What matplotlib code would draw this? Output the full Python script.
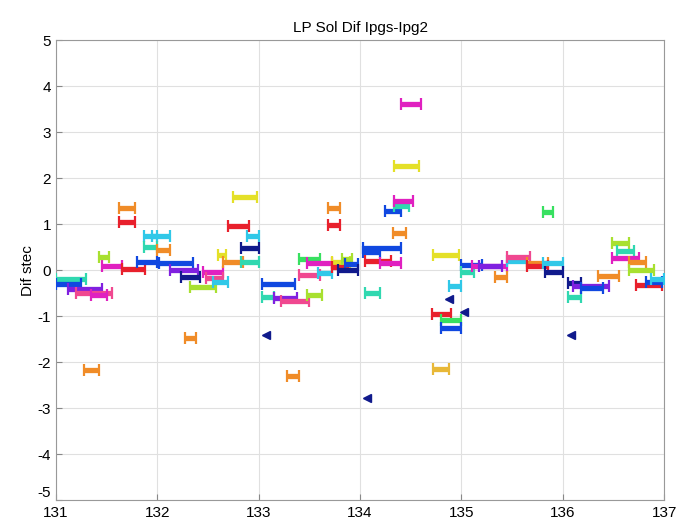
import numpy as np
import matplotlib.pyplot as plt

plt.rcParams['font.family'] = ['Liberation Sans', 'DejaVu Sans']
plt.rcParams['axes.unicode_minus'] = False

# satellite colours (index -> colour)
sat_colors = ['#e8202c', '#f08c28', '#e8b838', '#e4e028', '#a8e030', '#38e060',
              '#30d8b0', '#30c8e8', '#1048e0', '#101a8c', '#8020e0', '#e020c0', '#f04890']

# arc segments: start epoch, end epoch, level, satellite index
seg_x0 = [131.00, 131.00, 131.12, 131.20, 131.35, 131.45, 131.42, 131.65, 131.80, 131.87, 131.87,
          131.62, 131.62, 131.28,
          131.95, 132.00, 132.02, 132.13, 132.23, 132.32, 132.45, 132.48, 132.55, 132.60, 132.65,
          132.83, 132.83, 132.88, 132.70, 132.75, 132.27,
          133.03, 133.03, 133.15, 133.22, 133.48, 133.40, 133.48, 133.40, 133.58, 133.72, 133.72,
          133.82, 133.85, 133.78, 133.68, 133.68, 133.28,
          134.03, 134.03, 134.05, 134.20, 134.05, 134.32, 134.25, 134.33, 134.33, 134.33, 134.40,
          134.72, 134.71, 134.80, 134.80, 134.88, 134.72,
          135.00, 135.00, 135.10, 135.17, 135.33, 135.45, 135.45, 135.65, 135.65, 135.80, 135.82, 135.80,
          136.05, 136.05, 136.10, 136.18, 136.35, 136.48, 136.53, 136.48, 136.65, 136.65, 136.72, 136.82, 136.87]
seg_x1 = [131.30, 131.25, 131.45, 131.55, 131.50, 131.65, 131.52, 131.88, 132.00, 132.00, 132.00,
          131.78, 131.78, 131.42,
          132.13, 132.13, 132.35, 132.40, 132.42, 132.58, 132.65, 132.65, 132.70, 132.68, 132.85,
          133.00, 133.00, 133.00, 132.90, 132.98, 132.38,
          133.36, 133.15, 133.38, 133.50, 133.62, 133.60, 133.72, 133.60, 133.72, 133.90, 133.88,
          133.92, 133.98, 133.98, 133.80, 133.80, 133.40,
          134.40, 134.20, 134.30, 134.40, 134.20, 134.45, 134.40, 134.48, 134.52, 134.58, 134.60,
          134.98, 134.90, 135.00, 135.00, 135.00, 134.88,
          135.20, 135.12, 135.45, 135.40, 135.45, 135.65, 135.68, 135.85, 135.85, 136.00, 136.00, 135.90,
          136.18, 136.18, 136.45, 136.40, 136.55, 136.65, 136.70, 136.75, 136.82, 136.90, 136.98, 136.98, 137.00]
seg_y = [-0.20, -0.30, -0.42, -0.50, -0.55, 0.10, 0.28, 0.02, 0.18, 0.75, 0.50,
         1.36, 1.05, -2.17,
         0.75, 0.43, 0.15, 0.00, -0.15, -0.37, -0.05, -0.18, -0.25, 0.32, 0.17,
         0.18, 0.48, 0.75, 0.97, 1.60, -1.47,
         -0.30, -0.58, -0.60, -0.66, -0.55, 0.25, 0.15, -0.10, -0.07, 0.18, 0.07,
         0.25, 0.13, 0.00, 1.35, 0.98, -2.30,
         0.48, 0.40, 0.20, 0.15, -0.50, 0.80, 1.28, 1.40, 1.50, 2.27, 3.60,
         0.33, -0.95, -1.08, -1.25, -0.35, -2.15,
         0.12, -0.05, 0.08, 0.10, -0.15, 0.20, 0.28, 0.15, 0.10, 0.15, -0.05, 1.27,
         -0.58, -0.28, -0.35, -0.38, -0.12, 0.60, 0.42, 0.26, 0.18, 0.00, -0.33, -0.25, -0.20]
seg_sat = [6, 8, 10, 12, 11, 11, 4, 0, 8, 7, 6,
           1, 0, 1,
           7, 1, 8, 10, 9, 4, 11, 12, 7, 3, 1,
           6, 9, 7, 0, 3, 1,
           8, 6, 10, 12, 4, 5, 11, 12, 7, 3, 0,
           4, 8, 9, 1, 0, 1,
           8, 8, 0, 11, 6, 1, 8, 6, 11, 3, 11,
           3, 0, 5, 8, 7, 2,
           8, 6, 11, 10, 1, 7, 12, 1, 0, 7, 9, 5,
           6, 9, 10, 8, 1, 4, 6, 11, 1, 4, 0, 8, 7]

# single-epoch outliers
pt_x = [133.07, 134.07, 134.88, 135.02, 136.08]
pt_y = [-1.40, -2.78, -0.62, -0.92, -1.40]

fig = plt.figure(figsize=(6.82, 5.2), dpi=100)
ax = fig.add_axes([0.082, 0.038, 0.892, 0.885])

for x0, x1, y, s in zip(seg_x0, seg_x1, seg_y, seg_sat):
    c = sat_colors[s]
    ax.plot([x0, x1], [y, y], color=c, lw=3.8, solid_capstyle='butt', zorder=3)
    ax.plot([x0, x1], [y, y], ls='none', marker='|', ms=8, mew=1.6, color=c, zorder=3)

ax.plot(pt_x, pt_y, ls='none', marker='<', ms=6, color='#101a8c', zorder=4)

ax.set_xlim(131, 137)
ax.set_ylim(-5, 5)
ax.set_xticks(np.arange(131, 138))
ax.set_yticks(np.arange(-5, 6))
ax.grid(True, color='#e0e0e0', lw=0.8)
ax.tick_params(direction='in', labelsize=11, length=4, color='#888888')
ax.tick_params(axis='x', pad=4)
# lift the lowest y label so it clears the first x label
ax.get_yticklabels()[0].set_verticalalignment('bottom')
for sp in ax.spines.values():
    sp.set_color('#999999')
ax.set_title('LP Sol Dif Ipgs-Ipg2', fontsize=11, pad=6)
ax.set_ylabel('Dif stec', fontsize=11, labelpad=2)

fig.savefig('out.png', dpi=100)
